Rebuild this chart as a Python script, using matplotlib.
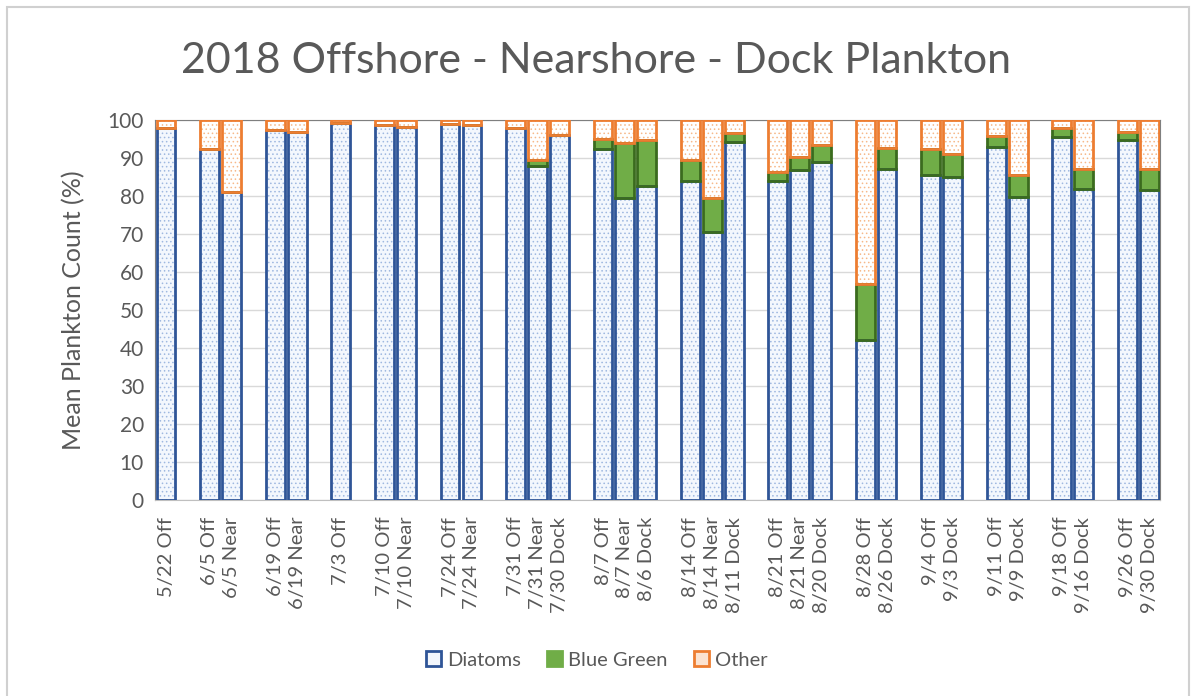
import numpy as np
import matplotlib
matplotlib.use("Agg")
import matplotlib.pyplot as plt
from matplotlib.patches import Patch, Rectangle

# Sampling dates, with blank slots between the weekly groups
labels = ["5/22 Off", "",
          "6/5 Off", "6/5 Near", "",
          "6/19 Off", "6/19 Near", "",
          "7/3 Off", "",
          "7/10 Off", "7/10 Near", "",
          "7/24 Off", "7/24 Near", "",
          "7/31 Off", "7/31 Near", "7/30 Dock", "",
          "8/7 Off", "8/7 Near", "8/6 Dock", "",
          "8/14 Off", "8/14 Near", "8/11 Dock", "",
          "8/21 Off", "8/21 Near", "8/20 Dock", "",
          "8/28 Off", "8/26 Dock", "",
          "9/4 Off", "9/3 Dock", "",
          "9/11 Off", "9/9 Dock", "",
          "9/18 Off", "9/16 Dock", "",
          "9/26 Off", "9/30 Dock"]

# percent of count per sample (None = blank slot)
diatoms = [98.0, None,
           92.3, 81.1, None,
           97.4, 96.9, None,
           99.3, None,
           98.6, 98.2, None,
           98.9, 98.6, None,
           97.8, 87.9, 96.1, None,
           92.3, 79.4, 82.5, None,
           83.9, 70.6, 94.3, None,
           83.9, 86.8, 89.0, None,
           42.1, 87.1, None,
           85.5, 84.9, None,
           93.0, 79.8, None,
           95.4, 81.8, None,
           94.7, 81.6]
blue_green = [0.0, None,
              0.0, 0.0, None,
              0.0, 0.0, None,
              0.0, None,
              0.0, 0.0, None,
              0.0, 0.0, None,
              0.0, 1.6, 0.0, None,
              2.6, 14.6, 12.2, None,
              5.6, 8.8, 2.2, None,
              2.5, 3.5, 4.4, None,
              14.7, 5.4, None,
              6.8, 6.2, None,
              2.8, 5.7, None,
              2.4, 5.3, None,
              2.1, 5.5]
other = [2.0, None,
         7.7, 18.9, None,
         2.6, 3.1, None,
         0.7, None,
         1.4, 1.8, None,
         1.1, 1.4, None,
         2.2, 10.5, 3.9, None,
         5.1, 6.0, 5.3, None,
         10.5, 20.6, 3.5, None,
         13.6, 9.7, 6.6, None,
         43.2, 7.5, None,
         7.7, 8.9, None,
         4.2, 14.5, None,
         2.2, 12.9, None,
         3.2, 12.9]

plt.rcParams['font.family'] = ['Lato', 'DejaVu Sans']
plt.rcParams['hatch.linewidth'] = 0.6
text_col = '#595959'

fig = plt.figure(figsize=(11.93, 6.96), dpi=100)
fig.patches.append(Rectangle((0.006, -0.01), 0.991, 1.0, transform=fig.transFigure,
                             fill=False, edgecolor='#d0d0d0', linewidth=1.5))
ax = fig.add_axes([0.130, 0.2816, 0.8425, 0.546])

x = np.arange(len(labels))
idx = [i for i, v in enumerate(diatoms) if v is not None]
d = np.array([diatoms[i] for i in idx])
g = np.array([blue_green[i] for i in idx])
o = np.array([other[i] for i in idx])
xs = x[idx]
w = 0.86

series = [
    (d, np.zeros_like(d), '#f3f7fd', '#9fb8e0', '#2f5597', '....'),
    (g, d, '#70ad47', '#70ad47', '#3b6b1e', None),
    (o, d + g, '#ffffff', '#f6b98a', '#ed7d31', '....'),
]
for vals, base, face, hcol, edge, hatch in series:
    ax.bar(xs, vals, w, bottom=base, color=face, edgecolor=hcol,
           linewidth=0, hatch=hatch, zorder=2)
    ax.bar(xs, vals, w, bottom=base, fill=False, edgecolor=edge,
           linewidth=2, zorder=3)

ax.set_xlim(-0.5, len(labels) - 0.5)
ax.set_ylim(0, 100)
ax.set_yticks(np.arange(0, 101, 10))
ax.set_xticks(x)
ax.set_xticklabels(labels, rotation=90, fontsize=14.5, color=text_col)
ax.tick_params(axis='y', labelsize=15, colors=text_col, length=0, pad=8)
ax.tick_params(axis='x', length=0, pad=12)
ax.grid(axis='y', color='#d9d9d9', linewidth=1, zorder=0)
ax.set_axisbelow(True)
for side in ['left', 'top', 'right']:
    ax.spines[side].set_color('#7f7f7f')
ax.spines['bottom'].set_color('#bfbfbf')

ax.set_ylabel('Mean Plankton Count (%)', fontsize=18, color=text_col, labelpad=16)
fig.text(0.500, 0.912, '2018 Offshore - Nearshore - Dock Plankton',
         ha='center', va='center', fontsize=31, color=text_col)

handles = [Patch(facecolor='#f3f7fd', edgecolor='#2f5597', linewidth=2, label='Diatoms'),
           Patch(facecolor='#70ad47', edgecolor='#70ad47', linewidth=2, label='Blue Green'),
           Patch(facecolor='#fbe3d1', edgecolor='#ed7d31', linewidth=2, label='Other')]
leg = fig.legend(handles=handles, loc='center', bbox_to_anchor=(0.5, 0.052), ncol=3,
                 frameon=False, fontsize=14.5, handlelength=0.75, handleheight=0.75,
                 handletextpad=0.3, columnspacing=1.3)
for t in leg.get_texts():
    t.set_color(text_col)

fig.savefig('out.png', dpi=100)
